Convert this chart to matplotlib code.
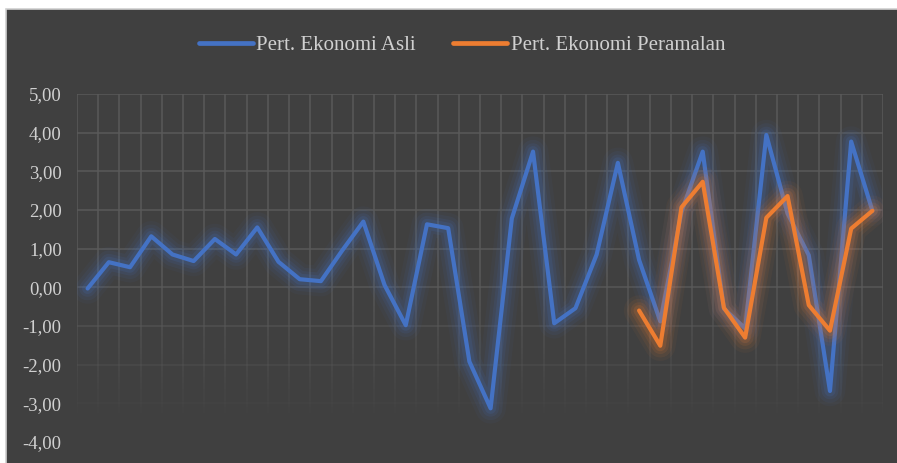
import numpy as np
import matplotlib.pyplot as plt
import matplotlib.patheffects as pe
from matplotlib.collections import LineCollection
from matplotlib.patches import Rectangle
from matplotlib.ticker import FuncFormatter

# -- data -- #
asli = [-0.03, 0.65, 0.52, 1.32, 0.85, 0.68, 1.25, 0.85, 1.55, 0.66,
        0.21, 0.16, 0.95, 1.70, 0.06, -0.98, 1.63, 1.53, -1.92, -3.13,
        1.78, 3.51, -0.93, -0.54, 0.85, 3.22, 0.71, -0.88, 1.95, 3.51,
        -0.55, -1.06, 3.94, 1.91, 0.83, -2.68, 3.77, 1.98]
ramal_start = 26
ramal = [-0.60, -1.51, 2.07, 2.73, -0.53, -1.30, 1.80, 2.36, -0.46, -1.12,
         1.52, 1.98]
y_ticks = [5, 4, 3, 2, 1, 0, -1, -2, -3, -4]
labels = ["Pert. Ekonomi Asli", "Pert. Ekonomi Peramalan"]

BG = '#404040'
GRID = '#5a5a5a'
TXT = '#d0d0d0'
BLUE = '#4472C4'
ORANGE = '#ED7D31'

plt.rcParams['font.family'] = ['Liberation Serif', 'DejaVu Serif']

fig = plt.figure(figsize=(8.97, 4.63), dpi=100)
fig.patch.set_facecolor('white')
# chart area (clipped from a document, white strip top and left)
bg = Rectangle((6 / 897, -0.01), 1.0, 1 - 9 / 463 + 0.01,
               transform=fig.transFigure, facecolor=BG,
               edgecolor='#d0d0d0', linewidth=1.2, zorder=-5)
fig.patches.append(bg)

ax = fig.add_axes([77 / 897, 1 - 442 / 463, (883 - 77) / 897, (442 - 94) / 463])
ax.patch.set_alpha(0)
n = len(asli)
ax.set_xlim(0, n)
ax.set_ylim(-4, 5)


def fade(v):
    # gridlines fade out towards the bottom
    return float(np.clip((v + 3.5) / 4.0, 0, 1))


# horizontal gridlines
for t in y_ticks:
    a = fade(t)
    if a > 0:
        ax.axhline(t, color=GRID, lw=1.1, alpha=a, zorder=1)

# vertical gridlines with gradient
ys = np.linspace(-4, 5, 60)
segs, cols = [], []
base = np.array(plt.matplotlib.colors.to_rgb(GRID))
for xv in range(n + 1):
    for y0, y1 in zip(ys[:-1], ys[1:]):
        segs.append([(xv, y0), (xv, y1)])
        cols.append((*base, fade((y0 + y1) / 2)))
ax.add_collection(LineCollection(segs, colors=cols, linewidths=1.1, zorder=1))

x = np.arange(n) + 0.5
x_r = x[ramal_start:ramal_start + len(ramal)]


def glow(c):
    return [pe.Stroke(linewidth=22, foreground=c, alpha=0.05),
            pe.Stroke(linewidth=17, foreground=c, alpha=0.08),
            pe.Stroke(linewidth=12, foreground=c, alpha=0.11),
            pe.Stroke(linewidth=8, foreground=c, alpha=0.15),
            pe.Normal()]


ax.plot(x, asli, color=BLUE, lw=3.0, solid_joinstyle='round',
        solid_capstyle='round', path_effects=glow(BLUE), zorder=3,
        label=labels[0])
ax.plot(x_r, ramal, color=ORANGE, lw=3.0, solid_joinstyle='round',
        solid_capstyle='round', path_effects=glow(ORANGE), zorder=4,
        label=labels[1])

ax.set_xticks([])
ax.set_yticks(y_ticks)
ax.yaxis.set_major_formatter(FuncFormatter(lambda v, p: f"{v:.2f}".replace('.', ',')))
ax.tick_params(axis='y', length=0, pad=11, labelcolor=TXT, labelsize=13.5)
for s in ax.spines.values():
    s.set_visible(False)

leg = fig.legend(loc='center', bbox_to_anchor=(462 / 897, 1 - 45 / 463),
                 ncol=2, frameon=False, fontsize=15, handlelength=2.6,
                 handletextpad=0.15, columnspacing=1.8)
for t in leg.get_texts():
    t.set_color(TXT)
for h in leg.get_lines():
    h.set_linewidth(3.4)
    h.set_path_effects([])

fig.savefig('out.png', dpi=100, facecolor=fig.get_facecolor())
